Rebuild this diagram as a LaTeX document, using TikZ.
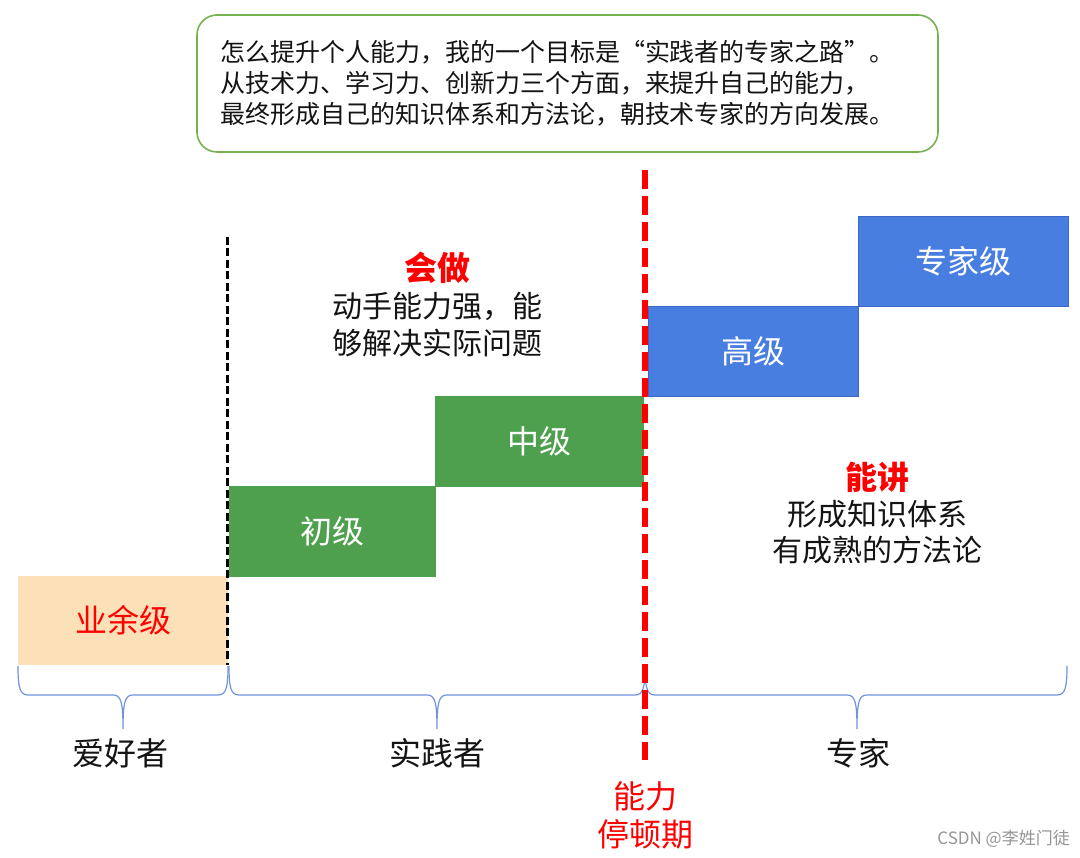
\documentclass[tikz,border=0pt]{standalone}
\usepackage{fontspec}
\setmainfont{Noto Sans CJK SC}
\definecolor{framegreen}{RGB}{118,178,80}
\definecolor{boxorange}{RGB}{251,224,184}
\definecolor{boxgreen}{RGB}{78,160,78}
\definecolor{boxblue}{RGB}{72,126,224}
\definecolor{blueedge}{RGB}{58,104,196}
\definecolor{myred}{RGB}{255,0,0}
\definecolor{bracecol}{RGB}{112,148,222}
\definecolor{txt}{RGB}{20,20,20}
\definecolor{wm}{RGB}{150,150,150}
\newcommand\hbrace[3]{%
  \draw[bracestyle] (#1,666) .. controls (#1,688) and ({#1+2},695) .. ({#1+10},695)
    -- ({#2-10},695) .. controls ({#2-2},695) and (#2,702) .. (#2,729)
    .. controls (#2,702) and ({#2+2},695) .. ({#2+10},695)
    -- ({#3-10},695) .. controls ({#3-2},695) and (#3,688) .. (#3,666);}
\begin{document}
\begin{tikzpicture}[x=1pt,y=-1pt,
  lvlbox/.style={inner sep=0pt, outer sep=0pt, font=\fontsize{32}{38}\selectfont},
  orangebox/.style={lvlbox, fill=boxorange, text=myred, minimum width=210pt, minimum height=89pt},
  greenbox/.style={lvlbox, fill=boxgreen, text=white, minimum width=207pt, minimum height=91pt},
  bluebox/.style={lvlbox, fill=boxblue, draw=blueedge, line width=0.8pt, text=white, minimum width=210pt, minimum height=90pt},
  desc/.style={align=center, inner sep=0pt, text=txt, font=\fontsize{30}{37}\selectfont},
  grouplabel/.style={inner sep=0pt, text=txt, font=\fontsize{32}{38}\selectfont},
  bracestyle/.style={draw=bracecol, line width=1.2pt},
]
\useasboundingbox (0,0) rectangle (1080,858);
\fill[white] (0,0) rectangle (1080,858);

% top note
\node[draw=framegreen, line width=1.6pt, rounded corners=20pt, text=txt,
      text width=695pt, align=left, inner xsep=23pt, minimum height=137pt,
      font=\fontsize{25}{31}\selectfont] (note) at (567.5,83.5)
  {怎么提升个人能力，我的一个目标是“实践者的专家之路”。\\从技术力、学习力、创新力三个方面，来提升自己的能力，\\最终形成自己的知识体系和方法论，朝技术专家的方向发展。};

% level boxes
\node[orangebox] (ama) at (123,620.5) {业余级};
\node[greenbox] (chu) at (332.5,531.5) {初级};
\node[greenbox, minimum width=209pt] (zhong) at (539.5,441.5) {中级};
\node[bluebox] (gao) at (753,351.5) {高级};
\node[bluebox] (zhuan) at (963,261.5) {专家级};

% descriptions
\node[desc] (hui) at (437,305) {{\fontsize{33}{37}\selectfont\bfseries\color{myred}会做}\\动手能力强，能\\够解决实际问题};
\node[desc, font=\fontsize{30}{36}\selectfont] (jiang) at (877,513) {{\fontsize{32}{36}\selectfont\bfseries\color{myred}能讲}\\形成知识体系\\有成熟的方法论};

% braces
\hbrace{18}{123}{228}
\hbrace{229}{437}{645}
\hbrace{645}{857}{1067}

% group labels
\node[grouplabel] (aihao) at (120,753) {爱好者};
\node[grouplabel] (shijian) at (437,753) {实践者};
\node[grouplabel] (zhuanjia) at (858,753) {专家};

% dividing lines
\coordinate (bt) at (227.5,237);
\coordinate (bb) at (227.5,665);
\draw[black, line width=2.4pt, dash pattern=on 8pt off 3.5pt] (bt) -- (bb);
\coordinate (rt) at (645,170);
\coordinate (rb) at (645,760);
\draw[myred, line width=6.5pt, dash pattern=on 19pt off 7pt] (rt) -- (rb);

\node[grouplabel, text=myred, align=center, font=\fontsize{32}{38}\selectfont] (pause) at (645,815) {能力\\停顿期};

% watermark
\node[anchor=east, inner sep=0pt, text=wm, font=\fontsize{17}{20}\selectfont] (wmk) at (1070,839) {CSDN @李姓门徒};
\end{tikzpicture}
\end{document}
